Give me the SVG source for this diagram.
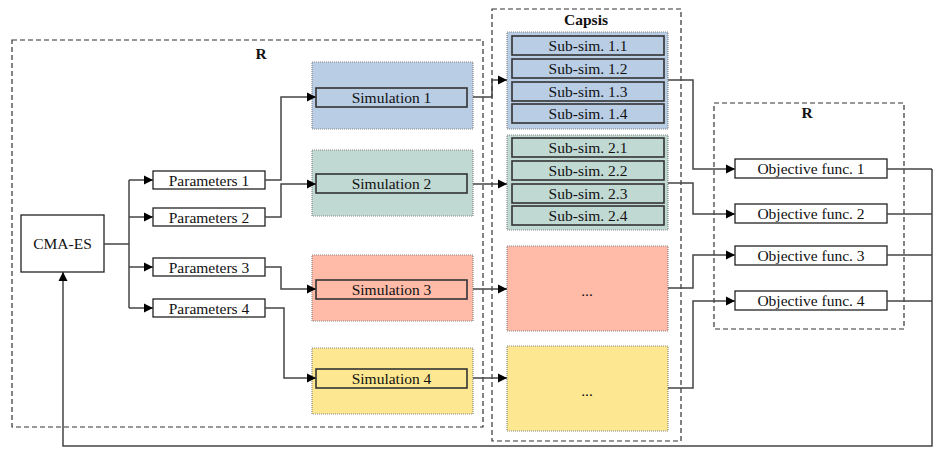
<svg xmlns="http://www.w3.org/2000/svg" width="945" height="454" viewBox="0 0 945 454" font-family="'Liberation Serif', 'DejaVu Serif', serif">
<defs>
<marker id="arr" markerWidth="10" markerHeight="10" refX="9" refY="5" orient="auto" markerUnits="userSpaceOnUse">
<path d="M0,0.5 L9,5 L0,9.5 Z" fill="#000"/>
</marker>
<style>
text{font-family:'Liberation Serif','Times New Roman',serif;font-size:15.5px;fill:#111;text-anchor:middle;dominant-baseline:central}
.title{font-weight:bold}
.region{fill:none;stroke:#333;stroke-width:1.2;stroke-dasharray:5,3}
.box{fill:#fff;stroke:#222;stroke-width:1.3}
.inner{stroke:#333;stroke-width:1.6}
.bg{stroke:#888;stroke-width:1.2;stroke-dasharray:1,1}
.blue{fill:#b9cde5}
.green{fill:#c1d9d3}
.red{fill:#ffbba8}
.yellow{fill:#fde891}
.conn{fill:none;stroke:#444;stroke-width:1.5}
.arrow{marker-end:url(#arr)}
</style>
</defs>
<rect width="945" height="454" fill="#fff"/>

<g id="regionR1"><rect class="region" x="12" y="40" width="471" height="387"/><text class="title" x="261" y="53">R</text></g>
<g id="capsis"><rect class="region" x="492" y="9" width="189" height="432"/><text class="title" x="586" y="19">Capsis</text></g>
<g id="regionR2"><rect class="region" x="714" y="103" width="190" height="226"/><text class="title" x="807" y="112">R</text></g>

<g id="cmaes"><rect class="box" x="21" y="215" width="83" height="57"/><text x="62.5" y="243.5">CMA-ES</text></g>

<g id="params1"><rect class="box" x="153" y="171" width="112" height="18"/><text x="209" y="180">Parameters 1</text></g>
<g id="params2"><rect class="box" x="153" y="208" width="112" height="18"/><text x="209" y="217">Parameters 2</text></g>
<g id="params3"><rect class="box" x="153" y="258" width="112" height="18"/><text x="209" y="267">Parameters 3</text></g>
<g id="params4"><rect class="box" x="153" y="299" width="112" height="18"/><text x="209" y="308">Parameters 4</text></g>

<g id="sim1"><rect class="bg blue" x="312" y="62" width="161" height="67"/><rect class="inner blue" x="316" y="88" width="151" height="19"/><text x="391.5" y="97.5">Simulation 1</text></g>
<g id="sim2"><rect class="bg green" x="312" y="150" width="161" height="66"/><rect class="inner green" x="316" y="174" width="151" height="19"/><text x="391.5" y="183.5">Simulation 2</text></g>
<g id="sim3"><rect class="bg red" x="312" y="255" width="161" height="66"/><rect class="inner red" x="316" y="280" width="151" height="19"/><text x="391.5" y="289.5">Simulation 3</text></g>
<g id="sim4"><rect class="bg yellow" x="312" y="348" width="161" height="66"/><rect class="inner yellow" x="316" y="369" width="151" height="19"/><text x="391.5" y="378.5">Simulation 4</text></g>

<g id="subsims1">
<rect class="bg blue" x="507" y="32" width="161" height="97"/>
<rect class="inner blue" x="512" y="36" width="152" height="19"/><text x="588" y="45.5">Sub-sim. 1.1</text>
<rect class="inner blue" x="512" y="59" width="152" height="19"/><text x="588" y="68.5">Sub-sim. 1.2</text>
<rect class="inner blue" x="512" y="82" width="152" height="19"/><text x="588" y="91.5">Sub-sim. 1.3</text>
<rect class="inner blue" x="512" y="104" width="152" height="19"/><text x="588" y="113.5">Sub-sim. 1.4</text>
</g>
<g id="subsims2">
<rect class="bg green" x="507" y="135" width="161" height="95"/>
<rect class="inner green" x="512" y="138" width="152" height="19"/><text x="588" y="147.5">Sub-sim. 2.1</text>
<rect class="inner green" x="512" y="161" width="152" height="19"/><text x="588" y="170.5">Sub-sim. 2.2</text>
<rect class="inner green" x="512" y="184" width="152" height="19"/><text x="588" y="193.5">Sub-sim. 2.3</text>
<rect class="inner green" x="512" y="206" width="152" height="19"/><text x="588" y="215.5">Sub-sim. 2.4</text>
</g>
<g id="subsims3"><rect class="bg red" x="507" y="246" width="161" height="85"/><text x="587" y="290">...</text></g>
<g id="subsims4"><rect class="bg yellow" x="507" y="346" width="161" height="85"/><text x="587" y="390">...</text></g>

<g id="obj1"><rect class="box" x="735" y="159" width="152" height="19"/><text x="811" y="168.5">Objective func. 1</text></g>
<g id="obj2"><rect class="box" x="735" y="204" width="152" height="19"/><text x="811" y="213.5">Objective func. 2</text></g>
<g id="obj3"><rect class="box" x="735" y="246" width="152" height="19"/><text x="811" y="255.5">Objective func. 3</text></g>
<g id="obj4"><rect class="box" x="735" y="291" width="152" height="19"/><text x="811" y="300.5">Objective func. 4</text></g>

<g id="connectors">
<path class="conn" d="M104,244 H129"/>
<path class="conn" d="M129,180 V308"/>
<path class="conn arrow" d="M129,180 H153"/>
<path class="conn arrow" d="M129,217 H153"/>
<path class="conn arrow" d="M129,267 H153"/>
<path class="conn arrow" d="M129,308 H153"/>
<path class="conn arrow" d="M265,180 H281 V97 H316"/>
<path class="conn arrow" d="M265,217 H281 V184 H316"/>
<path class="conn arrow" d="M265,267 H281 V289 H316"/>
<path class="conn arrow" d="M265,308 H284 V378 H316"/>
<path class="conn arrow" d="M473,97 H492 V80 H507"/>
<path class="conn arrow" d="M473,184 H507"/>
<path class="conn arrow" d="M473,289 H507"/>
<path class="conn arrow" d="M473,378 H507"/>
<path class="conn arrow" d="M668,80 H693 V169 H735"/>
<path class="conn arrow" d="M668,183 H693 V214 H735"/>
<path class="conn arrow" d="M668,288 H693 V255 H735"/>
<path class="conn arrow" d="M668,388 H693 V301 H735"/>
<path class="conn" d="M887,169 H932"/>
<path class="conn" d="M887,214 H932"/>
<path class="conn" d="M887,255 H932"/>
<path class="conn" d="M887,301 H932"/>
<path class="conn arrow" d="M932,169 V446 H63 V272"/>
</g>
</svg>
